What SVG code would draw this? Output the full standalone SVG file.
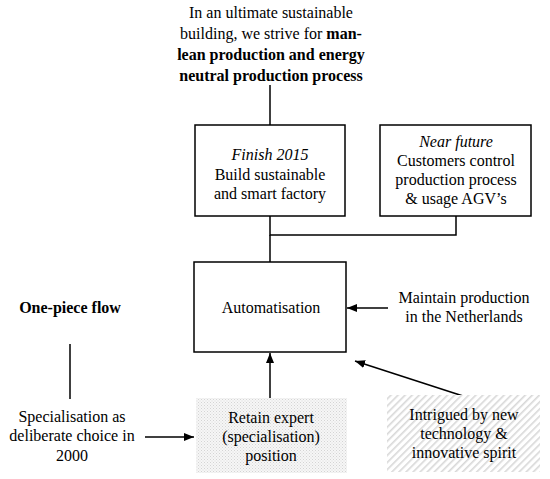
<svg xmlns="http://www.w3.org/2000/svg" width="550" height="479" viewBox="0 0 550 479">
<style>
text{font-family:"Liberation Serif","Times New Roman",serif;font-size:16px;fill:#000;text-anchor:middle}
.b{font-weight:bold}
.i{font-style:italic}
.box{fill:#fff;stroke:#000;stroke-width:1.5}
.ln{fill:none;stroke:#000;stroke-width:1.5}
</style>
<defs>
<marker id="ah" viewBox="0 0 10 10" refX="10" refY="5" markerWidth="10" markerHeight="10" markerUnits="userSpaceOnUse" orient="auto">
<path d="M0,1 L10,5 L0,9 Z" fill="#000"/>
</marker>
<pattern id="dots" width="3" height="3" patternUnits="userSpaceOnUse">
<rect width="3" height="3" fill="#f6f6f6"/>
<rect width="1" height="1" fill="#d4d4d4"/>
<rect x="1.5" y="1.5" width="1" height="1" fill="#dcdcdc"/>
</pattern>
<pattern id="hatch" width="5" height="5" patternUnits="userSpaceOnUse" patternTransform="rotate(45)">
<rect width="5" height="5" fill="#fff"/>
<rect width="1.6" height="5" fill="#d8d8d8"/>
</pattern>
</defs>
<g id="goal">
<text x="271" y="18">In an ultimate sustainable</text>
<text x="271" y="39">building, we strive for <tspan class="b">man-</tspan></text>
<text x="271" y="60" class="b">lean production and energy</text>
<text x="271" y="81" class="b">neutral production process</text>
</g>
<g id="connectors">
<line class="ln" x1="270" y1="85" x2="270" y2="125"/>
<polyline class="ln" points="270,216 270,235 456,235 456,216"/>
<line class="ln" x1="270" y1="235" x2="270" y2="262"/>
<line class="ln" x1="70" y1="344" x2="70" y2="399"/>
<line class="ln" x1="145" y1="437" x2="194" y2="437" marker-end="url(#ah)"/>
<line class="ln" x1="270" y1="398" x2="270" y2="353" marker-end="url(#ah)"/>
<line class="ln" x1="388" y1="308" x2="347" y2="308" marker-end="url(#ah)"/>
<line class="ln" x1="463" y1="396" x2="355" y2="361" marker-end="url(#ah)"/>
</g>
<g id="finish2015">
<rect class="box" x="195" y="125" width="150" height="91"/>
<text x="270" y="160" class="i">Finish 2015</text>
<text x="270" y="180">Build sustainable</text>
<text x="270" y="199">and smart factory</text>
</g>
<g id="nearfuture">
<rect class="box" x="380" y="125" width="151" height="91"/>
<text x="456" y="147" class="i">Near future</text>
<text x="456" y="166">Customers control</text>
<text x="456" y="185">production process</text>
<text x="456" y="204">&amp; usage AGV’s</text>
</g>
<g id="automatisation">
<rect class="box" x="194" y="262" width="152" height="90"/>
<text x="271" y="313">Automatisation</text>
</g>
<g id="maintain">
<text x="464" y="303">Maintain production</text>
<text x="464" y="322">in the Netherlands</text>
</g>
<g id="onepiece">
<text x="70" y="313" class="b">One-piece flow</text>
</g>
<g id="specialisation">
<text x="72" y="422">Specialisation as</text>
<text x="72" y="441">deliberate choice in</text>
<text x="72" y="461">2000</text>
</g>
<g id="retain">
<rect x="196" y="398" width="151" height="75" fill="url(#dots)"/>
<text x="271" y="423">Retain expert</text>
<text x="271" y="442">(specialisation)</text>
<text x="271" y="461">position</text>
</g>
<g id="intrigued">
<rect x="387" y="395" width="153" height="77" fill="url(#hatch)"/>
<text x="464" y="420">Intrigued by new</text>
<text x="464" y="439">technology &amp;</text>
<text x="464" y="458">innovative spirit</text>
</g>
</svg>
